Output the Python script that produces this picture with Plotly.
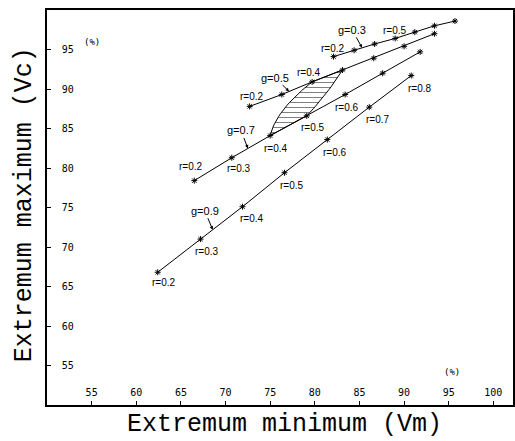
import numpy as np
import plotly.graph_objects as go

# ratio r along each curve
r_vals = [0.2, 0.3, 0.4, 0.5, 0.6, 0.7, 0.8]

# extremum minimum (Vm, %) and extremum maximum (Vc, %) for each g
g09_vm = [62.4, 67.2, 71.9, 76.6, 81.4, 86.1, 90.8]
g09_vc = [66.8, 71.0, 75.1, 79.4, 83.6, 87.7, 91.7]
g07_vm = [66.5, 70.7, 75.0, 79.1, 83.4, 87.6, 91.8]
g07_vc = [78.4, 81.3, 84.1, 86.6, 89.3, 92.0, 94.7]
g05_vm = [72.7, 76.3, 79.7, 83.1, 86.6, 90.0, 93.4]
g05_vc = [87.8, 89.3, 90.9, 92.4, 93.9, 95.4, 97.0]
g03_vm = [82.1, 84.4, 86.7, 89.0, 91.2, 93.4, 95.7]
g03_vc = [94.1, 94.9, 95.7, 96.4, 97.2, 98.0, 98.6]

g_names = ["g=0.9", "g=0.7", "g=0.5", "g=0.3"]

# bend points of the two curved sides of the hatched zone
hatch_left_mid = (76.5, 87.4)
hatch_right_mid = (81.3, 89.5)

x_ticks = [55, 60, 65, 70, 75, 80, 85, 90, 95, 100]
y_ticks = [55, 60, 65, 70, 75, 80, 85, 90, 95]

x_title = "Extremum minimum (Vm)"
y_title = "Extremum maximum (Vc)"

curves = [(g09_vm, g09_vc), (g07_vm, g07_vc), (g05_vm, g05_vc), (g03_vm, g03_vc)]

fig = go.Figure()


def bezier(p0, mid, p2, n=20):
    # quadratic curve through p0, mid (at t=0.5) and p2
    c = (2 * mid[0] - 0.5 * (p0[0] + p2[0]), 2 * mid[1] - 0.5 * (p0[1] + p2[1]))
    t = np.linspace(0, 1, n)
    xs = (1 - t) ** 2 * p0[0] + 2 * (1 - t) * t * c[0] + t ** 2 * p2[0]
    ys = (1 - t) ** 2 * p0[1] + 2 * (1 - t) * t * c[1] + t ** 2 * p2[1]
    return list(xs), list(ys)


# hatched zone between g=0.7 and g=0.5 for r=0.4..0.5
a = (g07_vm[2], g07_vc[2])
b = (g05_vm[2], g05_vc[2])
c = (g05_vm[3], g05_vc[3])
d = (g07_vm[3], g07_vc[3])
lx, ly = bezier(a, hatch_left_mid, b)
rx, ry = bezier(d, hatch_right_mid, c)
hx = lx + [c[0]] + rx[::-1][1:] + [a[0]]
hy = ly + [c[1]] + ry[::-1][1:] + [a[1]]
fig.add_trace(go.Scatter(
    x=hx, y=hy, mode="lines", fill="toself",
    line=dict(color="black", width=1),
    fillcolor="white",
    fillpattern=dict(shape="-", fgcolor="black", bgcolor="white", size=5, solidity=0.2),
    hoverinfo="skip", showlegend=False,
))

for (vm, vc), name in zip(curves, g_names):
    fig.add_trace(go.Scatter(
        x=vm, y=vc, mode="lines+markers", name=name,
        line=dict(color="black", width=1),
        marker=dict(symbol="asterisk-open", size=5, color="black",
                    line=dict(color="black", width=1)),
        showlegend=False,
    ))

# r labels: (curve index, point index, dx, dy) in pixels, dy downward
r_labels = [
    (0, 0, 6, 10), (0, 1, 6, 12), (0, 2, 9, 12), (0, 3, 8, 13),
    (0, 4, 8, 13), (0, 5, 9, 12), (0, 6, 9, 13),
    (1, 0, -3, -14), (1, 1, 7, 11), (1, 2, 6, 13), (1, 3, 6, 12), (1, 4, 2, 13),
    (2, 0, 2, -10), (2, 2, -3, -9),
    (3, 0, -1, -8), (3, 3, 0, -8),
]
annotations = []
for ci, pi, dx, dy in r_labels:
    vm, vc = curves[ci]
    annotations.append(dict(
        x=vm[pi], y=vc[pi], xref="x", yref="y",
        text=f"r={r_vals[pi]:.1f}", showarrow=False,
        xshift=dx, yshift=-dy,
        font=dict(family="Liberation Sans", size=10, color="black"),
    ))

# g labels with a small arrow pointing onto the curve:
# (segment start index, fraction along segment, text offset x, y)
g_arrows = [(1, 0.29, -8, -19), (1, 0.42, -7, -18), (1, 0.24, -14, -14), (1, 0.39, -10, -18)]
for (vm, vc), name, (si, t, ax, ay) in zip(curves, g_names, g_arrows):
    tx = vm[si] + t * (vm[si + 1] - vm[si])
    ty = vc[si] + t * (vc[si + 1] - vc[si])
    annotations.append(dict(
        x=tx, y=ty, xref="x", yref="y", text=name, showarrow=True,
        ax=ax, ay=ay, arrowhead=2, arrowsize=0.7, arrowwidth=1,
        arrowcolor="black", standoff=0,
        font=dict(family="Liberation Sans", size=11, color="black"),
    ))

# unit markers
annotations.append(dict(x=55.0, y=96.0, xref="x", yref="y", text="(%)", showarrow=False,
                        font=dict(family="DejaVu Sans Mono", size=9, color="black")))
annotations.append(dict(x=95.35, y=54.2, xref="x", yref="y", text="(%)", showarrow=False,
                        font=dict(family="DejaVu Sans Mono", size=9, color="black")))

# axis titles
title_font = dict(family="Liberation Mono", size=25, color="black")
annotations.append(dict(x=0.509, y=-0.05, xref="paper", yref="paper", text=x_title,
                        showarrow=False, xanchor="center", yanchor="middle", font=title_font,
                        borderpad=0))
annotations.append(dict(x=-0.049, y=0.506, xref="paper", yref="paper", text=y_title,
                        showarrow=False, xanchor="center", yanchor="middle", textangle=-90,
                        font=title_font, borderpad=0))

axis_common = dict(
    showgrid=False, zeroline=False, showline=True, mirror=True,
    linecolor="black", linewidth=1.5,
    ticks="inside", ticklen=4, tickcolor="black", tickwidth=1,
    ticklabelposition="inside",
    tickfont=dict(family="DejaVu Sans Mono", size=10, color="black"),
    automargin=False,
)

fig.update_layout(
    width=515, height=441,
    margin=dict(l=47, r=2, t=10, b=36, autoexpand=False),
    plot_bgcolor="white", paper_bgcolor="white",
    xaxis=dict(range=[50, 102.2], tickvals=x_ticks, ticktext=[str(v) for v in x_ticks],
               ticklabelstandoff=2, **axis_common),
    yaxis=dict(range=[50, 100], tickvals=y_ticks, ticktext=[str(v) for v in y_ticks],
               ticklabelstandoff=10, **axis_common),
    annotations=annotations,
)

fig.write_html("out.html")
